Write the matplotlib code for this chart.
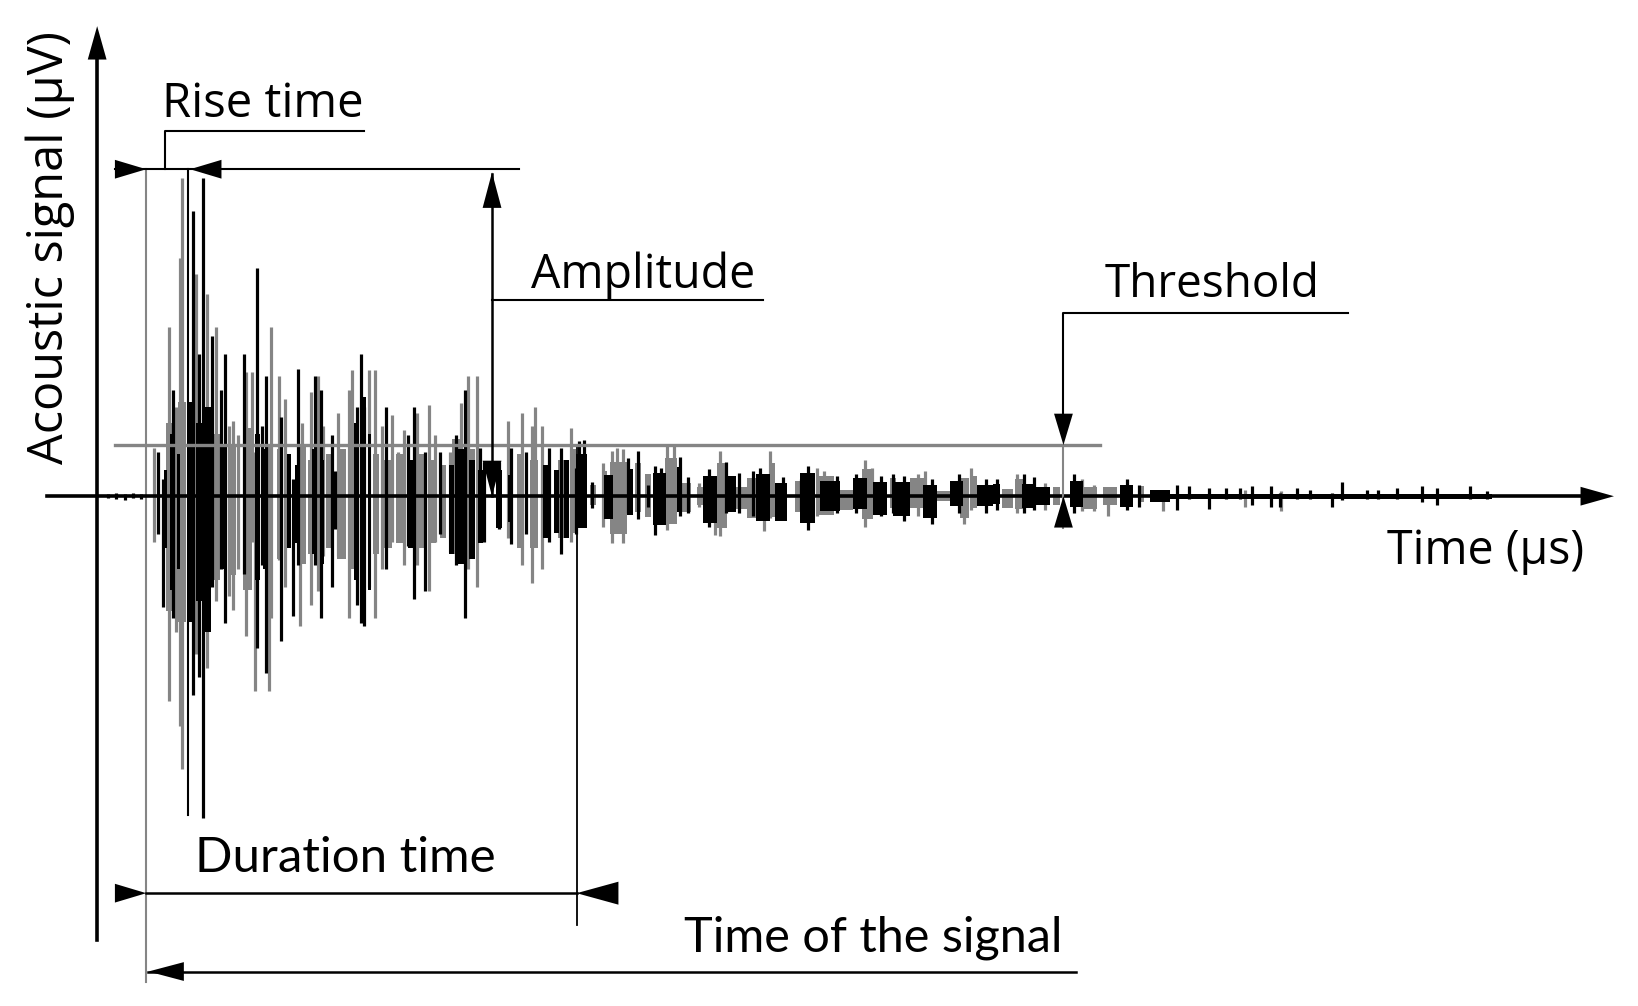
import numpy as np
import matplotlib.pyplot as plt
from matplotlib.patches import Polygon

# waveform peaks: time, upper and lower excursion (arbitrary units)
black_t = [10, 18, 26, 34, 42, 58, 63, 72, 91, 97, 101, 110, 118, 122, 140, 153, 157, 161, 176, 187,
           192, 208, 214, 224, 227, 248, 252, 255, 276, 297, 303, 313, 328, 343, 352, 366, 370, 384,
           396, 410, 432, 444, 458, 461, 466, 473, 508, 517, 527, 534, 539, 558, 565, 585, 602, 614,
           627, 634, 656, 673, 680, 708, 726, 750, 761, 772, 799, 825, 850, 861, 887, 896, 935,
           985, 997, 1033, 1045, 1064, 1080, 1094, 1105, 1123, 1132, 1148, 1161, 1182, 1191, 1215, 1226,
           1244, 1268, 1282, 1314, 1330]
black_top = [2, 3, 2, 3, 2, 42, 16, 102, 273, 136, 305, 153, 102, 136, 136, 218, 67, 115, 76, 16,
             122, 115, 102, 59, 24, 85, 136, 85, 85, 59, 85, 42, 42, 59, 102, 46, 33, 33,
             46, 42, 46, 46, 27, 53, 54, 14, 37, 43, 11, 29, 27, 38, 18, 26, 33, 22,
             24, 27, 18, 16, 29, 19, 21, 19, 21, 19, 16, 21, 16, 16, 21, 18, 21,
             16, 11, 11, 10, 8, 8, 8, 10, 10, 3, 8, 6, 3, 14, 6, 6,
             8, 10, 8, 10, 5]
black_bot = [-2, -3, -4, -2, -3, -36, -106, -117, -190, -173, -308, -87, -70, -121, -74, -145, -66, -169, -139, -115,
             -66, -66, -117, -87, -31, -104, -121, -124, -70, -48, -98, -91, -36, -66, -117, -36, -44, -31,
             -46, -36, -44, -55, -36, -26, -26, -11, -16, -22, -10, -37, -22, -19, -16, -29, -16, -16,
             -19, -13, -16, -13, -32, -16, -16, -19, -16, -24, -27, -16, -16, -13, -16, -13, -16,
             -13, -10, -13, -3, -12, -3, -3, -8, -10, -10, -3, -3, -10, -4, -3, -3,
             -3, -6, -8, -3, -3]

gray_t = [54, 68, 75, 79, 81, 94, 105, 113, 126, 130, 134, 142, 148, 151, 164, 166, 174, 179, 194, 196,
          204, 211, 216, 230, 234, 241, 244, 260, 266, 272, 282, 288, 293, 306, 317, 323, 337, 348,
          355, 363, 393, 406, 416, 419, 425, 453, 484, 492, 497, 503, 545, 552, 576, 591, 596, 638,
          644, 689, 695, 735, 741, 785, 792, 829, 836, 880, 907, 942, 954, 967, 1020, 1098, 1133]
gray_top = [46, 162, 85, 228, 305, 213, 194, 162, 67, 72, 59, 119, 119, 42, 42, 162, 115, 93, 42, 70,
            100, 115, 67, 80, 37, 102, 121, 121, 121, 67, 78, 42, 63, 80, 87, 59, 42, 89,
            115, 115, 72, 80, 67, 85, 67, 65, 32, 43, 46, 45, 49, 49, 13, 10, 43, 16,
            43, 27, 24, 35, 27, 21, 24, 16, 27, 21, 13, 16, 11, 6, 6, 6, 5]
gray_bot = [-44, -196, -130, -220, -261, -151, -164, -100, -96, -109, -70, -134, -44, -186, -186, -117, -61, -87, -124, -44,
            -104, -91, -57, -57, -23, -117, -66, -87, -117, -70, -44, -36, -66, -66, -91, -44, -53, -57,
            -70, -87, -40, -66, -83, -44, -70, -44, -29, -45, -32, -45, -32, -22, -10, -37, -38, -33,
            -21, -19, -16, -29, -16, -19, -16, -27, -13, -16, -13, -14, -14, -19, -14, -10, -14]

# dense body of the oscillation: start, end, upper and lower level
black_body_t0 = [64, 70, 76, 88, 95, 103, 119, 151, 159, 182, 189, 206, 213, 246, 252, 259, 298, 337, 345,
                 356, 365, 382, 393, 427, 437, 447,
                 458, 485, 507, 532, 555, 580, 603, 631, 649, 673, 692, 724, 743, 762, 791, 816, 842,
                 858, 885, 899, 931, 979, 1008, 1027]
black_body_t1 = [67, 74, 79, 93, 100, 109, 124, 156, 164, 186, 194, 210, 217, 250, 257, 262, 304, 342, 352,
                 362, 369, 388, 398, 432, 442, 452,
                 469, 494, 513, 545, 560, 593, 612, 644, 660, 687, 711, 737, 756, 778, 804, 829, 858,
                 864, 899, 912, 944, 992, 1027, 1335]
black_body_top = [25, 60, 40, 90, 70, 85, 50, 60, 45, 40, 30, 45, 35, 70, 95, 60, 35, 30, 45,
                  35, 25, 25, 20, 30, 25, 35,
                  40, 20, 26, 22, 28, 19, 19, 21, 13, 22, 15, 17, 14, 14, 11, 15, 11,
                  12, 12, 9, 15, 11, 6, 2.5]
black_body_bot = [-50, -90, -70, -120, -100, -130, -70, -80, -70, -50, -45, -55, -65, -80, -100, -90, -50, -55, -65,
                  -60, -45, -30, -25, -40, -35, -40,
                  -30, -22, -18, -28, -15, -26, -15, -24, -24, -26, -14, -12, -18, -19, -21, -9, -9,
                  -7, -11, -8, -10, -10, -6, -3]

gray_body_t0 = [66, 77, 92, 104, 112, 127, 140, 162, 172, 192, 202, 219, 230, 240, 264, 274, 286, 308, 318,
                328, 340, 355, 402, 414, 441, 453,
                472, 483, 491, 515, 524, 544, 560, 574, 593, 612, 622, 644, 668, 689, 711, 732, 759,
                778, 804, 826, 836, 866, 879, 915, 944, 963, 998]
gray_body_t1 = [72, 85, 98, 108, 118, 133, 148, 168, 178, 200, 206, 224, 238, 246, 270, 282, 293, 314, 324,
                334, 347, 362, 408, 422, 447, 458,
                478, 488, 507, 521, 530, 555, 568, 580, 603, 622, 631, 649, 679, 705, 724, 743, 765,
                794, 816, 835, 842, 877, 887, 922, 957, 976, 1002]
gray_body_top = [70, 90, 80, 70, 60, 50, 65, 50, 45, 50, 35, 40, 45, 60, 40, 35, 40, 40, 35,
                 30, 55, 45, 40, 35, 35, 45,
                 11, 24, 33, 32, 21, 37, 13, 9, 32, 9, 17, 32, 15, 19, 6, 26, 17,
                 17, 5, 17, 19, 7, 16, 9, 9, 9, 10]
gray_body_bot = [-110, -120, -100, -110, -80, -75, -90, -70, -60, -65, -55, -50, -60, -70, -55, -50, -45, -50, -45,
                 -40, -55, -50, -50, -50, -40, -35,
                 -8, -18, -36, -15, -20, -27, -15, -8, -30, -12, -21, -20, -15, -18, -13, -22, -11,
                 -11, -5, -21, -11, -11, -12, -8, -12, -8, -6]

threshold = 49
peak_amp = 313
signal_start = 47
peak_time = 87
duration_end = 459
signal_end = 937
threshold_mark = 925
amp_mark = 378

fig = plt.figure(figsize=(16.38, 10.06), dpi=100)
ax = fig.add_axes([0, 0, 1, 1])
ax.axis('off')

GRAY = '#858585'


def tri(x, y, d, length=30, half=9, color='k'):
    # filled arrowhead with its tip at (x, y)
    if d == 'right':
        pts = [(x, y), (x - length, y + half), (x - length, y - half)]
    elif d == 'left':
        pts = [(x, y), (x + length, y + half), (x + length, y - half)]
    elif d == 'up':
        pts = [(x, y), (x - half, y - length), (x + half, y - length)]
    else:
        pts = [(x, y), (x - half, y + length), (x + half, y + length)]
    ax.add_patch(Polygon(pts, closed=True, color=color, zorder=6, lw=0))


def body(t0, t1, top, bot, color, z):
    t0, t1, top, bot = map(np.asarray, (t0, t1, top, bot))
    ax.bar(t0, top - bot, width=t1 - t0, bottom=bot, align='edge', color=color, lw=0, zorder=z)


def spikes(t, top, bot, color, z):
    ax.vlines(np.array(t) + 0.4, bot, top, color=color, lw=2.3, zorder=z)


body(gray_body_t0, gray_body_t1, gray_body_top, gray_body_bot, GRAY, 1)
spikes(gray_t, gray_top, gray_bot, GRAY, 1.5)
body(black_body_t0, black_body_t1, black_body_top, black_body_bot, 'k', 2)
spikes(black_t, black_top, black_bot, 'k', 2.5)

# axes
ax.plot([0, 0], [-425, 430], color='k', lw=2.6, zorder=5)
tri(0, 450, 'up', length=32, half=9)
ax.plot([-48, 1430], [0, 0], color='k', lw=2.6, zorder=5)
tri(1452, 0, 'right', length=32, half=9)

ax.text(-45, 238, 'Acoustic signal (\u03bcV)', rotation=90, ha='center', va='center',
        fontsize=35, family='Open Sans')
ax.text(1235, -65, 'Time (\u03bcs)', fontsize=33.5, family='Open Sans', va='baseline')

# threshold
ax.plot([17, 960], [threshold, threshold], color=GRAY, lw=2.4, zorder=4)
ax.plot([threshold_mark, threshold_mark, 1197], [threshold + 30, 175, 175], color='k', lw=1.5, zorder=5)
ax.plot([threshold_mark, threshold_mark], [-30, threshold], color=GRAY, lw=1.5, zorder=5)
tri(threshold_mark, threshold, 'down', length=30, half=9)
tri(threshold_mark, 0, 'up', length=30, half=9)
ax.text(964, 191, 'Threshold', fontsize=33, family='Open Sans', va='baseline')

# rise time
ax.plot([17, 404], [peak_amp, peak_amp], color='k', lw=1.5, zorder=5)
tri(signal_start, peak_amp, 'right', length=30, half=9)
tri(peak_time + 2, peak_amp, 'left', length=30, half=9)
ax.plot([65, 65, 255], [peak_amp, 350, 350], color='k', lw=1.5, zorder=5)
ax.plot([signal_start, signal_start], [peak_amp, -465], color=GRAY, lw=1.5, zorder=3)
ax.plot([peak_time, peak_time], [peak_amp, -305], color='k', lw=1.5, zorder=3)
ax.text(62, 363, 'Rise time', fontsize=34, family='Open Sans', va='baseline')

# amplitude
ax.plot([amp_mark, amp_mark], [0, peak_amp - 5], color='k', lw=1.8, zorder=5)
tri(amp_mark, peak_amp - 3, 'up', length=34, half=9)
tri(amp_mark, 0, 'down', length=34, half=9)
ax.plot([amp_mark, 637], [188, 188], color='k', lw=1.5, zorder=5)
ax.text(415, 199, 'Amplitude', fontsize=33.5, family='Open Sans', va='baseline')

# duration
ax.plot([duration_end, duration_end], [threshold, -410], color='k', lw=1.3, zorder=3)
ax.plot([signal_start, duration_end], [-380, -380], color='k', lw=1.8, zorder=5)
tri(signal_start, -380, 'right', length=30, half=9)
tri(duration_end, -380, 'left', length=40, half=11)
ax.text(94, -360, 'Duration time', fontsize=35.5, family='Lato', va='baseline')

# time of the signal
ax.plot([signal_start + 2, signal_end], [-455, -455], color='k', lw=1.8, zorder=5)
tri(signal_start + 2, -455, 'left', length=34, half=9)
ax.text(562, -436, 'Time of the signal', fontsize=35, family='Lato', va='baseline')

ax.set_xlim(-93, 1475)
ax.set_ylim(-488, 475)
fig.savefig('out.png', dpi=100)
